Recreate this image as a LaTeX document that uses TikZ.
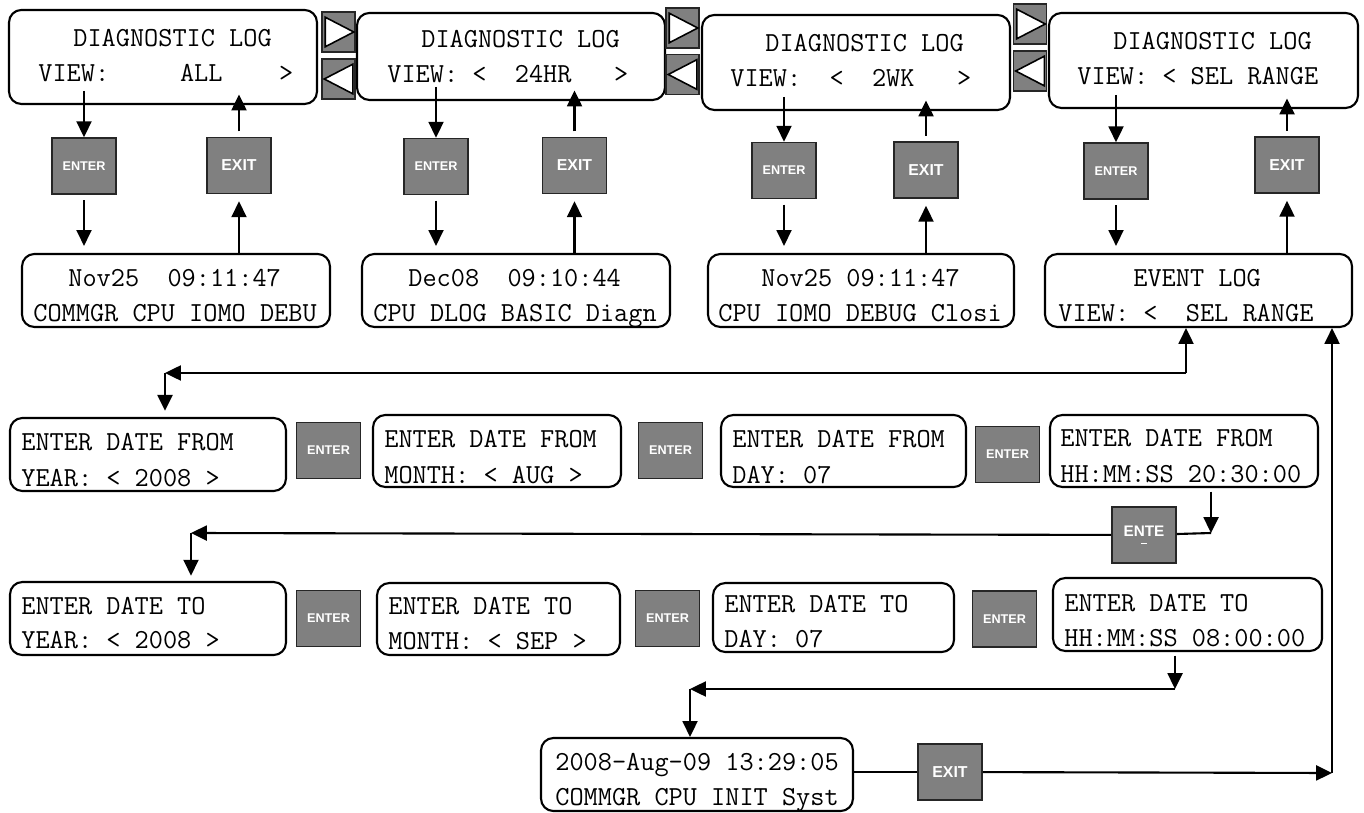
\documentclass[tikz,border=0pt]{standalone}
\usepackage{fontspec}
\newfontfamily\keyfont{Liberation Sans}
\usetikzlibrary{arrows.meta}
\frenchspacing

\begin{document}
\begin{tikzpicture}[
      x=0.02cm, y=-0.02cm,
      lcd/.style={
          rectangle, draw=black, fill=white,
          line width=1.2pt, rounded corners=7pt,
          inner sep=0pt
      },
      lcdline/.style={
          anchor=base west, inner sep=0pt,
          font=\ttfamily\fontsize{15.66}{18}\selectfont
      },
      key/.style={
          rectangle, draw=black!85, fill=black!50,
          line width=0.9pt, minimum width=1.28cm, minimum height=1.12cm,
          inner sep=0pt, text=white,
          font=\keyfont\bfseries\fontsize{7.2}{8}\selectfont
      },
      exitkey/.style={key, font=\keyfont\bfseries\fontsize{9}{10}\selectfont},
      scroll/.style={
          rectangle, draw=black!85, fill=black!50,
          line width=0.9pt, minimum width=0.66cm, minimum height=0.8cm,
          inner sep=0pt
      },
      tri/.style={draw=black, fill=white, line width=0.9pt, line join=miter},
      flow/.style={-{Triangle[length=9pt,width=8.5pt]}, line width=1.2pt},
      link/.style={line width=1.2pt}
  ]
  \useasboundingbox (0,0) rectangle (1364,813);

  % Diagnostic log views
  \node[lcd, minimum width=6.16cm, minimum height=1.88cm] (D1) at (163,57) {};
  \node[lcd, minimum width=6.16cm, minimum height=1.74cm] (D2) at (511,56.5) {};
  \node[lcd, minimum width=6.16cm, minimum height=1.90cm] (D3) at (856,62.5) {};
  \node[lcd, minimum width=6.18cm, minimum height=1.90cm] (D4) at (1203.5,60.5) {};
  \node[lcdline] (D1a) at (73,47) {DIAGNOSTIC LOG};
  \node[lcdline] (D1b) at (38,82) {VIEW:~~~~~ALL~~~~>};
  \node[lcdline] (D2a) at (421,48) {DIAGNOSTIC LOG};
  \node[lcdline] (D2b) at (387,83) {VIEW:~<~~24HR~~~>};
  \node[lcdline] (D3a) at (765,52) {DIAGNOSTIC LOG};
  \node[lcdline] (D3b) at (730,87) {VIEW:~~<~~2WK~~~>};
  \node[lcdline] (D4a) at (1113,50) {DIAGNOSTIC LOG};
  \node[lcdline] (D4b) at (1077,85) {VIEW:~<~SEL~RANGE};

  % scroll buttons
  \foreach \i/\x/\yr/\yl in {1/338.5/32/79, 2/682.5/28/74.5, 3/1030/24/71}{
      \node[scroll] (SR\i) at (\x,\yr) {};
      \node[scroll] (SL\i) at (\x,\yl) {};
      \draw[tri] ([shift={(4,6)}]SR\i.north west) -- ([shift={(4,-6)}]SR\i.south west)
          -- ([shift={(-2,0)}]SR\i.east) -- cycle;
      \draw[tri] ([shift={(-3,6)}]SL\i.north east) -- ([shift={(-3,-6)}]SL\i.south east)
          -- ([shift={(3,0)}]SL\i.west) -- cycle;
  }

  % enter / exit keys
  \node[key]     (EN1) at (84,166) {ENTER};
  \node[exitkey] (EX1) at (239,165.5) {EXIT};
  \node[key]     (EN2) at (436,166.5) {ENTER};
  \node[exitkey] (EX2) at (574.5,165.5) {EXIT};
  \node[key]     (EN3) at (784,170.5) {ENTER};
  \node[exitkey] (EX3) at (926,170) {EXIT};
  \node[key]     (EN4) at (1116,171) {ENTER};
  \node[exitkey] (EX4) at (1287,165) {EXIT};

  % log entries
  \node[lcd, minimum width=6.16cm, minimum height=1.46cm] (B1) at (176,290.5) {};
  \node[lcd, minimum width=6.16cm, minimum height=1.46cm] (B2) at (516,290.5) {};
  \node[lcd, minimum width=6.12cm, minimum height=1.46cm] (B3) at (861,290.5) {};
  \node[lcd, minimum width=6.14cm, minimum height=1.46cm] (B4) at (1198.5,290.5) {};
  \node[lcdline] (B1a) at (68,287) {Nov25~~09:11:47};
  \node[lcdline] (B1b) at (33,322) {COMMGR CPU IOMO DEBU};
  \node[lcdline] (B2a) at (408,287) {Dec08~~09:10:44};
  \node[lcdline] (B2b) at (373,322) {CPU DLOG BASIC Diagn};
  \node[lcdline] (B3a) at (761,287) {Nov25 09:11:47};
  \node[lcdline] (B3b) at (718,322) {CPU IOMO DEBUG Closi};
  \node[lcdline] (B4a) at (1133,287) {EVENT LOG};
  \node[lcdline] (B4b) at (1058,322) {VIEW:~<~~SEL RANGE};

  \foreach \i in {1,...,4}{
      \draw[flow, shorten <=-8pt] (D\i.south -| EN\i) -- (EN\i);
      \draw[flow, shorten <=3pt, shorten >=-6pt] (EX\i) -- (EX\i |- D\i.south);
      \draw[flow, shorten <=3pt, shorten >=4pt] (EN\i) -- (EN\i |- B\i.north);
      \draw[flow, shorten >=4pt] (EX\i |- B\i.north) -- (EX\i);
  }

  % date from
  \node[lcd, minimum width=5.52cm, minimum height=1.46cm] (F1) at (148,454.5) {};
  \node[lcd, minimum width=4.96cm, minimum height=1.44cm] (F2) at (497,451) {};
  \node[lcd, minimum width=4.90cm, minimum height=1.44cm] (F3) at (843.5,451) {};
  \node[lcd, minimum width=5.36cm, minimum height=1.44cm] (F4) at (1184,451) {};
  \node[lcdline] (F1a) at (21,451) {ENTER DATE FROM};
  \node[lcdline] (F1b) at (21,486) {YEAR: < 2008 >};
  \node[lcdline] (F2a) at (384,448) {ENTER DATE FROM};
  \node[lcdline] (F2b) at (384,483) {MONTH: < AUG >};
  \node[lcdline] (F3a) at (732,448) {ENTER DATE FROM};
  \node[lcdline] (F3b) at (732,483) {DAY: 07};
  \node[lcdline] (F4a) at (1060,447) {ENTER DATE FROM};
  \node[lcdline] (F4b) at (1060,482) {HH:MM:SS 20:30:00};
  \node[key] (EF1) at (328.5,450.5) {ENTER};
  \node[key] (EF2) at (670.5,450.5) {ENTER};
  \node[key] (EF3) at (1007.5,454.5) {ENTER};

  % date to
  \node[lcd, minimum width=5.52cm, minimum height=1.46cm] (T1) at (148,618.5) {};
  \node[lcd, minimum width=4.86cm, minimum height=1.44cm] (T2) at (498.5,619) {};
  \node[lcd, minimum width=4.82cm, minimum height=1.38cm] (T3) at (833.5,617.5) {};
  \node[lcd, minimum width=5.38cm, minimum height=1.46cm] (T4) at (1187.5,614.5) {};
  \node[lcdline] (T1a) at (21,614) {ENTER DATE TO};
  \node[lcdline] (T1b) at (21,648) {YEAR: < 2008 >};
  \node[lcdline] (T2a) at (388,614) {ENTER DATE TO};
  \node[lcdline] (T2b) at (388,649) {MONTH: < SEP >};
  \node[lcdline] (T3a) at (724,612) {ENTER DATE TO};
  \node[lcdline] (T3b) at (724,647) {DAY: 07};
  \node[lcdline] (T4a) at (1064,611) {ENTER DATE TO};
  \node[lcdline] (T4b) at (1064,646) {HH:MM:SS 08:00:00};
  \node[key] (ET1) at (328.5,618.5) {ENTER};
  \node[key] (ET2) at (667.5,618.5) {ENTER};
  \node[key] (ET3) at (1004.5,619) {ENTER};
  \node[key, align=center, font=\keyfont\bfseries\fontsize{8.7}{10}\selectfont]
      (ENTE) at (1144,535) {ENTE\\[-6pt]\rule{3pt}{0.4pt}};

  % result
  \node[lcd, minimum width=6.24cm, minimum height=1.46cm] (R) at (697,774.5) {};
  \node[lcdline] (Ra) at (555,770) {2008-Aug-09 13:29:05};
  \node[lcdline] (Rb) at (555,805) {COMMGR CPU INIT Syst};
  \node[exitkey] (EXr) at (950,772) {EXIT};

  % range selection flow
  \coordinate (c1) at (1186,373);
  \coordinate (c2) at (165,373);
  \coordinate (c3) at (1211,533);
  \coordinate (c4) at (191,533);
  \coordinate (c5) at (1175,689);
  \coordinate (c6) at (690,689);
  \coordinate (c7) at (1332,773);
  \draw[flow] (c1) -- (c1 |- B4.south);
  \draw[flow] (c1) -- (c2);
  \draw[flow, shorten >=3.5pt] (c2) -- (c2 |- F1.north);
  \draw[flow, shorten <=2pt] (F4.south -| c3) -- (c3);
  \draw[link] (c3) -- (ENTE);
  \draw[flow] (ENTE) -- (c4);
  \draw[flow, shorten >=3pt] (c4) -- (c4 |- T1.north);
  \draw[flow, shorten <=2pt] (T4.south -| c5) -- (c5);
  \draw[flow] (c5) -- (c6);
  \draw[flow] (c6) -- (c6 |- R.north);
  \draw[link] (R.east |- EXr) -- (EXr);
  \draw[flow] (EXr) -- (c7);
  \draw[flow] (c7) -- (c7 |- B4.south);
  \end{tikzpicture}
\end{document}
